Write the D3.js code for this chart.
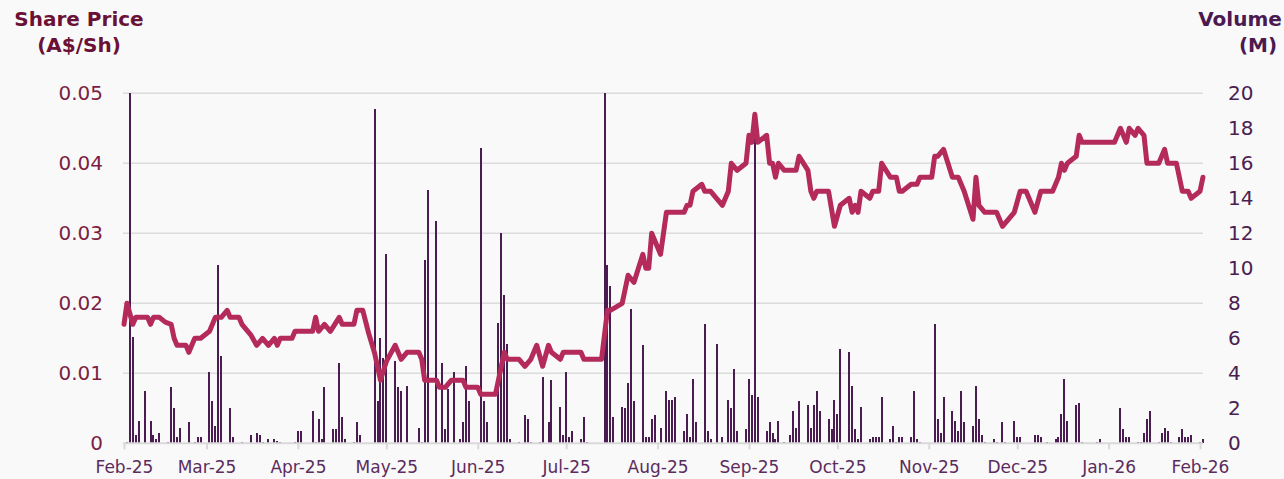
<!DOCTYPE html>
<html>
<head>
<meta charset="utf-8">
<script src="https://cdn.jsdelivr.net/npm/d3@7"></script>
<style>
  body { margin: 0; background: #f9f9f9; }
  svg { display: block; font-family: "DejaVu Sans", sans-serif; }
</style>
</head>
<body>
<svg id="chart" width="1284" height="479"></svg>
<script>
// share price (A$/Sh), vertices of the daily line
var priceData = [
  ["2025-02-01",0.017],["2025-02-02",0.020],["2025-02-04",0.017],["2025-02-05",0.018],["2025-02-09",0.018],
  ["2025-02-10",0.017],["2025-02-11",0.018],["2025-02-13",0.018],["2025-02-15",0.0173],["2025-02-17",0.017],
  ["2025-02-18",0.015],["2025-02-19",0.014],["2025-02-22",0.014],["2025-02-23",0.013],["2025-02-25",0.015],
  ["2025-02-27",0.015],["2025-03-02",0.016],["2025-03-03",0.017],["2025-03-04",0.018],["2025-03-06",0.018],
  ["2025-03-08",0.019],["2025-03-09",0.018],["2025-03-12",0.018],["2025-03-13",0.017],["2025-03-16",0.0155],
  ["2025-03-18",0.014],["2025-03-20",0.015],["2025-03-22",0.014],["2025-03-24",0.015],["2025-03-25",0.014],
  ["2025-03-26",0.015],["2025-03-30",0.015],["2025-03-31",0.016],["2025-04-06",0.016],["2025-04-07",0.018],
  ["2025-04-08",0.016],["2025-04-10",0.017],["2025-04-12",0.016],["2025-04-15",0.018],["2025-04-16",0.017],
  ["2025-04-20",0.017],["2025-04-21",0.019],["2025-04-23",0.019],["2025-04-25",0.0157],["2025-04-27",0.0129],
  ["2025-04-29",0.009],["2025-05-01",0.0117],["2025-05-04",0.014],["2025-05-06",0.012],["2025-05-08",0.013],
  ["2025-05-12",0.013],["2025-05-13",0.012],["2025-05-14",0.009],["2025-05-18",0.009],["2025-05-19",0.008],
  ["2025-05-21",0.008],["2025-05-23",0.009],["2025-05-27",0.009],["2025-05-28",0.008],["2025-06-01",0.008],
  ["2025-06-02",0.007],["2025-06-07",0.007],["2025-06-10",0.013],["2025-06-11",0.012],["2025-06-15",0.012],
  ["2025-06-17",0.011],["2025-06-19",0.012],["2025-06-21",0.014],["2025-06-23",0.011],["2025-06-25",0.014],
  ["2025-06-26",0.013],["2025-06-29",0.012],["2025-06-30",0.013],["2025-07-06",0.013],["2025-07-07",0.012],
  ["2025-07-13",0.012],["2025-07-15",0.019],["2025-07-16",0.019],["2025-07-20",0.020],["2025-07-22",0.024],
  ["2025-07-24",0.023],["2025-07-27",0.027],["2025-07-28",0.025],["2025-07-29",0.025],["2025-07-30",0.030],
  ["2025-08-02",0.027],["2025-08-04",0.033],["2025-08-10",0.033],["2025-08-11",0.034],["2025-08-12",0.034],
  ["2025-08-13",0.036],["2025-08-16",0.037],["2025-08-17",0.036],["2025-08-19",0.036],["2025-08-23",0.034],
  ["2025-08-25",0.036],["2025-08-26",0.040],["2025-08-28",0.039],["2025-08-31",0.040],["2025-09-01",0.044],
  ["2025-09-02",0.043],["2025-09-03",0.047],["2025-09-04",0.043],["2025-09-07",0.044],["2025-09-08",0.040],
  ["2025-09-09",0.040],["2025-09-10",0.038],["2025-09-11",0.040],["2025-09-13",0.039],["2025-09-17",0.039],
  ["2025-09-18",0.041],["2025-09-21",0.039],["2025-09-22",0.036],["2025-09-23",0.035],["2025-09-24",0.036],
  ["2025-09-28",0.036],["2025-09-30",0.031],["2025-10-02",0.034],["2025-10-05",0.035],["2025-10-06",0.033],
  ["2025-10-07",0.034],["2025-10-08",0.033],["2025-10-09",0.036],["2025-10-12",0.035],["2025-10-13",0.036],
  ["2025-10-15",0.036],["2025-10-16",0.040],["2025-10-19",0.038],["2025-10-21",0.038],["2025-10-22",0.036],
  ["2025-10-23",0.036],["2025-10-26",0.037],["2025-10-28",0.037],["2025-10-29",0.038],["2025-11-02",0.038],
  ["2025-11-03",0.041],["2025-11-04",0.041],["2025-11-06",0.042],["2025-11-09",0.038],["2025-11-11",0.038],
  ["2025-11-13",0.036],["2025-11-16",0.032],["2025-11-17",0.038],["2025-11-18",0.034],["2025-11-20",0.033],
  ["2025-11-24",0.033],["2025-11-26",0.031],["2025-11-28",0.032],["2025-11-30",0.033],["2025-12-02",0.036],
  ["2025-12-04",0.036],["2025-12-07",0.033],["2025-12-09",0.036],["2025-12-13",0.036],["2025-12-15",0.038],
  ["2025-12-16",0.040],["2025-12-17",0.039],["2025-12-18",0.040],["2025-12-21",0.041],["2025-12-22",0.044],
  ["2025-12-23",0.043],["2026-01-03",0.043],["2026-01-05",0.045],["2026-01-07",0.043],["2026-01-08",0.045],
  ["2026-01-10",0.044],["2026-01-11",0.045],["2026-01-13",0.044],["2026-01-14",0.040],["2026-01-18",0.040],
  ["2026-01-20",0.042],["2026-01-21",0.040],["2026-01-24",0.040],["2026-01-26",0.036],["2026-01-28",0.036],
  ["2026-01-29",0.035],["2026-02-01",0.036],["2026-02-02",0.038]
];

// daily volume (M shares)
var volumeData = [
  ["2025-02-02",0.1],["2025-02-03",20],["2025-02-04",6.1],["2025-02-05",0.5],["2025-02-06",1.3],
  ["2025-02-08",3.0],["2025-02-10",1.3],["2025-02-11",0.5],["2025-02-12",0.25],["2025-02-13",0.6],
  ["2025-02-16",0.1],["2025-02-17",3.2],["2025-02-18",2.0],["2025-02-19",0.35],["2025-02-20",0.9],
  ["2025-02-23",1.2],["2025-02-25",0.1],["2025-02-26",0.35],["2025-02-27",0.35],["2025-03-02",4.1],
  ["2025-03-03",2.4],["2025-03-04",1.0],["2025-03-05",10.2],["2025-03-06",5.0],["2025-03-09",2.0],
  ["2025-03-10",0.35],["2025-03-13",0.1],["2025-03-16",0.5],["2025-03-18",0.6],["2025-03-19",0.5],
  ["2025-03-20",0.1],["2025-03-22",0.25],["2025-03-24",0.25],["2025-03-25",0.15],["2025-03-26",0.1],
  ["2025-03-31",0.1],["2025-04-01",0.7],["2025-04-02",0.7],["2025-04-06",1.85],["2025-04-07",0.1],
  ["2025-04-08",1.4],["2025-04-09",0.25],["2025-04-10",3.2],["2025-04-13",0.8],["2025-04-14",0.8],
  ["2025-04-15",4.6],["2025-04-16",1.5],["2025-04-17",0.25],["2025-04-20",0.1],["2025-04-21",1.2],
  ["2025-04-22",0.5],["2025-04-27",19.1],["2025-04-28",2.4],["2025-04-29",6.0],["2025-04-30",4.9],
  ["2025-05-01",10.8],["2025-05-04",4.7],["2025-05-05",3.2],["2025-05-06",3.0],["2025-05-08",3.3],
  ["2025-05-12",0.9],["2025-05-13",0.1],["2025-05-14",10.5],["2025-05-15",14.5],["2025-05-18",12.7],
  ["2025-05-20",4.6],["2025-05-21",0.8],["2025-05-22",3.1],["2025-05-24",4.1],["2025-05-26",0.25],
  ["2025-05-27",1.2],["2025-05-28",4.4],["2025-05-29",2.4],["2025-06-02",16.9],["2025-06-03",2.4],
  ["2025-06-04",1.2],["2025-06-08",6.9],["2025-06-09",12.0],["2025-06-10",8.5],["2025-06-11",5.7],
  ["2025-06-12",0.25],["2025-06-15",0.1],["2025-06-17",1.6],["2025-06-18",1.4],["2025-06-19",0.1],
  ["2025-06-22",0.1],["2025-06-23",3.8],["2025-06-25",1.2],["2025-06-26",3.6],["2025-06-29",2.1],
  ["2025-06-30",0.5],["2025-07-01",4.1],["2025-07-02",0.35],["2025-07-03",0.7],["2025-07-06",0.25],
  ["2025-07-07",1.5],["2025-07-08",0.1],["2025-07-14",20],["2025-07-15",10.2],["2025-07-16",9.0],
  ["2025-07-17",1.5],["2025-07-20",2.1],["2025-07-21",2.0],["2025-07-22",3.45],["2025-07-23",7.7],
  ["2025-07-24",2.4],["2025-07-27",5.6],["2025-07-28",0.35],["2025-07-29",0.35],["2025-07-30",1.4],
  ["2025-07-31",1.6],["2025-08-02",0.9],["2025-08-04",3.0],["2025-08-05",2.5],["2025-08-06",2.5],
  ["2025-08-07",2.65],["2025-08-10",0.7],["2025-08-11",1.7],["2025-08-12",0.35],["2025-08-13",3.7],
  ["2025-08-14",1.2],["2025-08-17",6.8],["2025-08-18",0.7],["2025-08-19",0.25],["2025-08-21",5.7],
  ["2025-08-23",0.35],["2025-08-25",2.5],["2025-08-26",2.0],["2025-08-27",4.25],["2025-08-28",0.7],
  ["2025-08-31",0.8],["2025-09-01",3.7],["2025-09-02",2.75],["2025-09-03",17.5],["2025-09-04",2.65],
  ["2025-09-07",0.7],["2025-09-08",1.2],["2025-09-09",0.6],["2025-09-10",0.25],["2025-09-11",1.3],
  ["2025-09-13",0.1],["2025-09-15",0.5],["2025-09-16",1.85],["2025-09-17",0.9],["2025-09-18",2.4],
  ["2025-09-21",2.2],["2025-09-22",0.9],["2025-09-23",2.2],["2025-09-24",3.0],["2025-09-25",1.85],
  ["2025-09-28",1.4],["2025-09-29",0.8],["2025-09-30",2.5],["2025-10-01",1.7],["2025-10-02",5.4],
  ["2025-10-05",5.2],["2025-10-06",3.3],["2025-10-07",0.8],["2025-10-08",0.25],["2025-10-09",2.1],
  ["2025-10-12",0.25],["2025-10-13",0.35],["2025-10-14",0.35],["2025-10-15",0.35],["2025-10-16",2.65],
  ["2025-10-19",0.25],["2025-10-20",1.0],["2025-10-21",0.1],["2025-10-22",0.35],["2025-10-23",0.35],
  ["2025-10-26",0.35],["2025-10-27",3.0],["2025-10-28",0.25],["2025-10-29",0.1],["2025-11-03",6.8],
  ["2025-11-04",1.4],["2025-11-05",0.6],["2025-11-06",2.65],["2025-11-09",1.85],["2025-11-10",1.3],
  ["2025-11-11",0.7],["2025-11-12",3.0],["2025-11-13",1.2],["2025-11-16",1.0],["2025-11-17",3.3],
  ["2025-11-18",1.4],["2025-11-19",0.5],["2025-11-20",0.1],["2025-11-23",0.25],["2025-11-24",0.1],
  ["2025-11-26",1.2],["2025-11-27",0.1],["2025-11-30",1.3],["2025-12-01",0.35],["2025-12-02",0.35],
  ["2025-12-07",0.5],["2025-12-08",0.5],["2025-12-09",0.35],["2025-12-11",0.1],["2025-12-14",0.25],
  ["2025-12-15",0.35],["2025-12-16",1.7],["2025-12-17",3.7],["2025-12-18",1.3],["2025-12-21",2.2],
  ["2025-12-22",2.3],["2025-12-23",0.1],["2025-12-28",0.1],["2025-12-29",0.25],["2026-01-05",2.0],
  ["2026-01-06",0.8],["2026-01-07",0.35],["2026-01-08",0.35],["2026-01-11",0.1],["2026-01-12",0.1],
  ["2026-01-13",0.6],["2026-01-14",1.4],["2026-01-15",1.85],["2026-01-18",0.1],["2026-01-19",0.6],
  ["2026-01-20",0.9],["2026-01-21",0.7],["2026-01-22",0.1],["2026-01-25",0.35],["2026-01-26",0.8],
  ["2026-01-27",0.35],["2026-01-28",0.35],["2026-01-29",0.5],["2026-02-01",0.1],["2026-02-02",0.25]
];

var priceTicks = [0, 0.01, 0.02, 0.03, 0.04, 0.05];
var volumeTicks = [0, 2, 4, 6, 8, 10, 12, 14, 16, 18, 20];

var parse = d3.utcParse('%Y-%m-%d');
var plotLeft = 124, plotRight = 1200, plotTop = 93.3, plotBottom = 443.3;

var x = d3.scaleUtc()
  .domain([parse('2025-02-01'), parse('2026-02-01')])
  .range([plotLeft, plotRight]);
var yPrice = d3.scaleLinear().domain([0, 0.05]).range([plotBottom, plotTop]);
var yVol = d3.scaleLinear().domain([0, 20]).range([plotBottom, plotTop]);

var svg = d3.select('#chart');

svg.append('rect')
  .attr('width', 1284).attr('height', 479)
  .attr('fill', '#f9f9f9');

// gridlines
svg.append('g')
  .selectAll('line')
  .data(priceTicks.slice(1))
  .enter().append('line')
    .attr('x1', plotLeft - 1).attr('x2', plotRight + 3)
    .attr('y1', function(d) { return yPrice(d); })
    .attr('y2', function(d) { return yPrice(d); })
    .attr('stroke', '#dcdcdc')
    .attr('stroke-width', 1.5);

// volume bars (snapped to whole pixels so they stay crisp)
svg.append('g')
  .attr('shape-rendering', 'crispEdges')
  .selectAll('rect')
  .data(volumeData)
  .enter().append('rect')
    .attr('x', function(d) { return Math.round(x(parse(d[0]))) - 1; })
    .attr('y', function(d) { return yVol(d[1]); })
    .attr('width', 2)
    .attr('height', function(d) { return plotBottom - yVol(d[1]); })
    .attr('fill', '#4a1c51');

// x axis
var xAxis = svg.append('g')
  .attr('transform', 'translate(0,' + plotBottom + ')')
  .call(d3.axisBottom(x)
    .ticks(d3.utcMonth.every(1))
    .tickFormat(d3.utcFormat('%b-%y'))
    .tickSize(6)
    .tickPadding(12));
xAxis.select('.domain')
  .attr('d', 'M' + (plotLeft - 1) + ',0H' + (plotRight + 3))
  .attr('stroke', '#d9d9d9')
  .attr('stroke-width', 2);
xAxis.selectAll('.tick line')
  .attr('stroke', '#d9d9d9')
  .attr('stroke-width', 2);
xAxis.selectAll('.tick text')
  .attr('fill', '#5b2c5d')
  .style('font-size', '17px')
  .style('font-family', '"DejaVu Sans", sans-serif');

// left axis labels
svg.append('g')
  .selectAll('text')
  .data(priceTicks)
  .enter().append('text')
    .attr('x', 103)
    .attr('y', function(d) { return yPrice(d) + 7; })
    .attr('text-anchor', 'end')
    .attr('fill', '#7c1f43')
    .style('font-size', '20px')
    .text(function(d) { return d === 0 ? '0' : d.toFixed(2); });

// right axis labels
svg.append('g')
  .selectAll('text')
  .data(volumeTicks)
  .enter().append('text')
    .attr('x', 1228)
    .attr('y', function(d) { return yVol(d) + 7; })
    .attr('fill', '#4b2050')
    .style('font-size', '20px')
    .text(function(d) { return d; });

// share price line
var line = d3.line()
  .x(function(d) { return x(parse(d[0])); })
  .y(function(d) { return yPrice(d[1]); });

svg.append('path')
  .datum(priceData)
  .attr('d', line)
  .attr('fill', 'none')
  .attr('stroke', '#b32a5b')
  .attr('stroke-width', 5)
  .attr('stroke-linejoin', 'round')
  .attr('stroke-linecap', 'round');

// axis titles
var leftTitle = svg.append('text')
  .attr('fill', '#6b1036')
  .attr('text-anchor', 'middle')
  .style('font-size', '20px')
  .style('font-weight', 'bold');
leftTitle.append('tspan').attr('x', 79).attr('y', 26).text('Share Price');
leftTitle.append('tspan').attr('x', 79).attr('y', 52).text('(A$/Sh)');

var rightTitle = svg.append('text')
  .attr('fill', '#4a1a50')
  .attr('text-anchor', 'middle')
  .style('font-size', '20px')
  .style('font-weight', 'bold');
rightTitle.append('tspan').attr('x', 1240).attr('y', 26).text('Volume');
rightTitle.append('tspan').attr('x', 1258).attr('y', 52).text('(M)');
</script>
</body>
</html>
